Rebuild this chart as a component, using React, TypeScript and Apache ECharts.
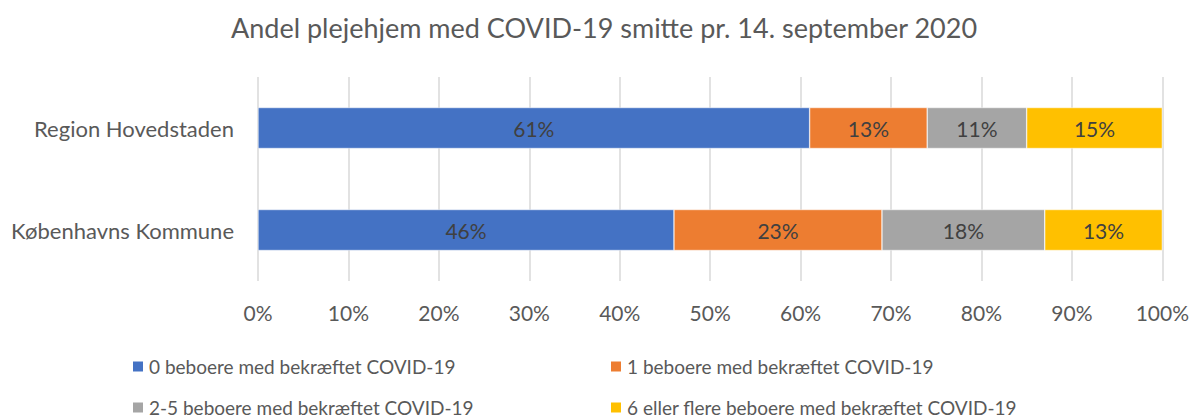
import React, { useEffect, useRef } from "react";
import * as echarts from "echarts";

const categories = ["Region Hovedstaden", "Københavns Kommune"];
const seriesNames = [
  "0 beboere med bekræftet COVID-19",
  "1 beboere med bekræftet COVID-19",
  "2-5 beboere med bekræftet COVID-19",
  "6 eller flere beboere med bekræftet COVID-19",
];
const values0 = [61, 46];
const values1 = [13, 23];
const values2_5 = [11, 18];
const values6plus = [15, 13];
const colors = ["#4472C4", "#ED7D31", "#A5A5A5", "#FFC000"];
const title = "Andel plejehjem med COVID-19 smitte pr. 14. september 2020";

const FONT = "Lato";

export default function App() {
  const ref = useRef<HTMLDivElement>(null);
  useEffect(() => {
    if (!ref.current) return;
    const chart = echarts.init(ref.current, undefined, { renderer: "svg" });
    const allValues = [values0, values1, values2_5, values6plus];
    const legendPos = [
      { left: 131, top: 357 },
      { left: 609, top: 357 },
      { left: 131, top: 398 },
      { left: 609, top: 398 },
    ];
    chart.setOption({
      animation: false,
      backgroundColor: "#ffffff",
      textStyle: { fontFamily: FONT },
      title: {
        text: title,
        left: 231,
        top: 14,
        padding: 0,
        textStyle: { fontFamily: FONT, fontSize: 27, fontWeight: "normal", color: "#595959" },
      },
      legend: seriesNames.map((n, i) => ({
        data: [n],
        left: legendPos[i].left,
        top: legendPos[i].top,
        icon: "rect",
        itemWidth: 12,
        itemHeight: 12,
        padding: 0,
        selectedMode: false,
        textStyle: { fontFamily: FONT, fontSize: 19, color: "#595959" },
      })),
      grid: { left: 258, right: 29, top: 77, bottom: 138, containLabel: false },
      xAxis: {
        type: "value",
        min: 0,
        max: 100,
        interval: 10,
        axisLine: { show: false },
        axisTick: { show: false },
        splitLine: { show: true, lineStyle: { color: "#d9d9d9", width: 1.5 } },
        axisLabel: {
          formatter: "{value}%",
          margin: 21,
          fontFamily: FONT,
          fontSize: 21,
          color: "#595959",
        },
      },
      yAxis: {
        type: "category",
        data: categories,
        inverse: true,
        axisLine: { show: false },
        axisTick: { show: false },
        axisLabel: { margin: 24, fontFamily: FONT, fontSize: 22, color: "#595959" },
      },
      series: seriesNames.map((n, i) => ({
        name: n,
        type: "bar",
        stack: "total",
        barWidth: 41,
        data: allValues[i],
        itemStyle: { color: colors[i], borderColor: "#ffffff", borderWidth: 0.5 },
        label: {
          show: true,
          position: "inside",
          formatter: "{c}%",
          fontFamily: FONT,
          fontSize: 21,
          color: "#404040",
        },
      })),
    });
    return () => chart.dispose();
  }, []);
  return (
    <div
      ref={ref}
      style={{ position: "fixed", left: 0, top: 0, width: 1192, height: 419, background: "#fff" }}
    />
  );
}
